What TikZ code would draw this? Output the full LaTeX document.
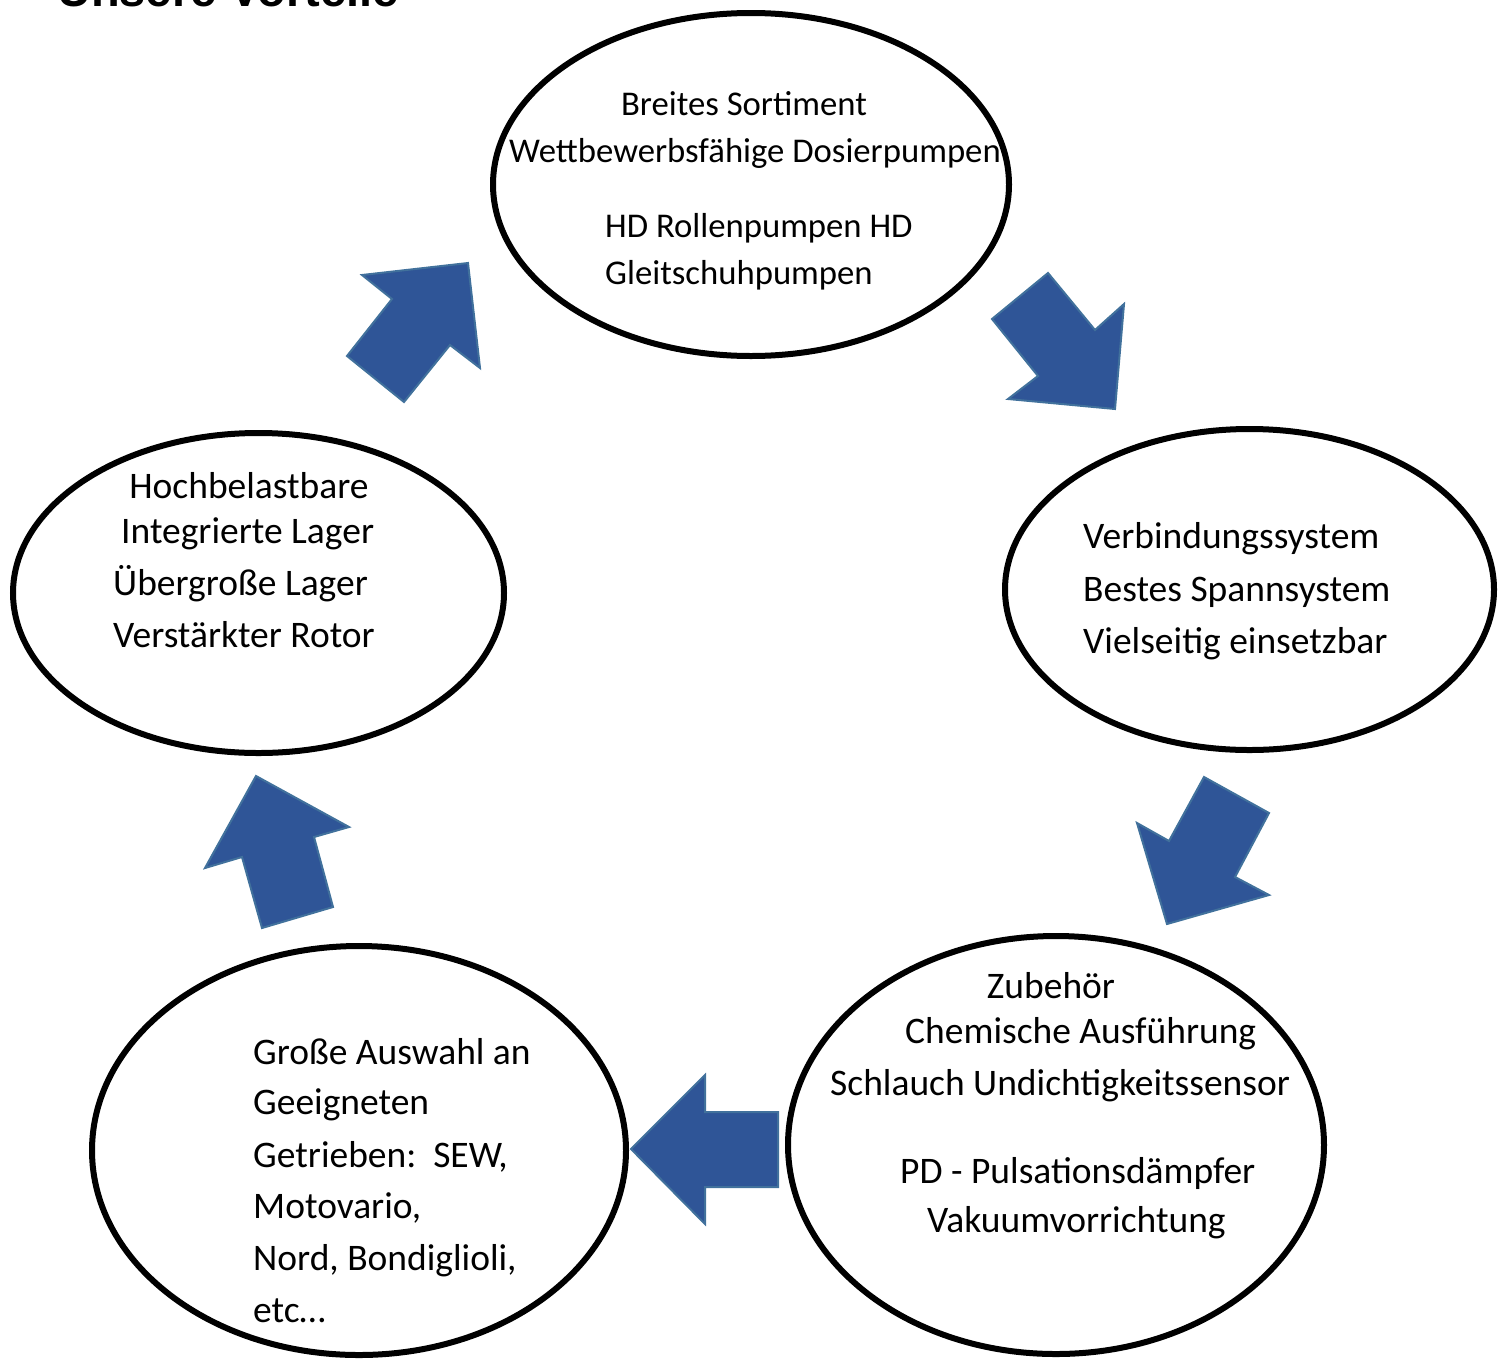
\documentclass[tikz,border=0pt]{standalone}
\usepackage{fontspec}
\setmainfont{Carlito}
\newfontfamily\titlefont{Liberation Sans}
\usetikzlibrary{shapes.geometric}
\definecolor{arrowfill}{RGB}{47,85,151}
\definecolor{arrowline}{RGB}{65,113,156}
\tikzset{
  bubble/.style={draw=black, line width=6pt, ellipse, inner sep=0pt},
  txt/.style={inner sep=0pt, font=\fontsize{37.5}{44}\selectfont},
  toptxt/.style={inner sep=0pt, font=\fontsize{34.7}{40}\selectfont},
  blockarrow/.style={fill=arrowfill, draw=arrowline, line width=2pt, line join=miter},
}
\begin{document}
\begin{tikzpicture}[x=1pt, y=-1pt]
\useasboundingbox (0,0) rectangle (1509,1360);
% title (cut off at top)
\node[inner sep=0pt, anchor=base west, font=\titlefont\bfseries\fontsize{47}{50}\selectfont] (title) at (57,6) {Unsere Vorteile};

% ellipses
\node[bubble, minimum width=516pt, minimum height=343pt] (top) at (751,184.5) {};
\node[bubble, minimum width=489pt, minimum height=321pt] (right) at (1249.5,589.5) {};
\node[bubble, minimum width=491pt, minimum height=320pt] (left) at (258.5,593) {};
\node[bubble, minimum width=534pt, minimum height=409pt] (botleft) at (359,1150.5) {};
\node[bubble, minimum width=536pt, minimum height=418pt] (botright) at (1056,1145) {};

% arrows
\draw[blockarrow] (362,275) -- (468,263) -- (480,368) -- (450,345) -- (404,402) -- (347,356) -- (392,299) -- cycle;
\draw[blockarrow] (1048,273) -- (1095,330) -- (1124,304) -- (1115,409) -- (1008,399) -- (1038,376) -- (992,319) -- cycle;
\draw[blockarrow] (1204,777) -- (1269,813) -- (1235,877) -- (1269,895) -- (1167,924) -- (1137,823) -- (1169,841) -- cycle;
\draw[blockarrow] (631,1149) -- (705,1075) -- (705,1112) -- (778,1112) -- (778,1187) -- (705,1187) -- (705,1224) -- cycle;
\draw[blockarrow] (256,776) -- (349,827) -- (314,837) -- (333,907) -- (262,928) -- (242,857) -- (205,868) -- cycle;

% top texts
\node[toptxt, anchor=base] (t1) at (744,115) {Breites Sortiment};
\node[toptxt, anchor=base] (t2) at (755,162) {Wettbewerbsfähige Dosierpumpen};
\node[toptxt, anchor=base west] (t3) at (605,237) {HD Rollenpumpen HD};
\node[toptxt, anchor=base west] (t4) at (605,284) {Gleitschuhpumpen};

% right texts
\node[txt, anchor=base west] (r1) at (1083,548) {Verbindungssystem};
\node[txt, anchor=base west] (r2) at (1083,601) {Bestes Spannsystem};
\node[txt, anchor=base west] (r3) at (1083,653) {Vielseitig einsetzbar};

% left texts
\node[txt, anchor=base] (l1) at (249,498) {Hochbelastbare};
\node[txt, anchor=base west] (l2) at (121,543) {Integrierte Lager};
\node[txt, anchor=base west] (l3) at (113,595) {Übergroße Lager};
\node[txt, anchor=base west] (l4) at (113,647) {Verstärkter Rotor};

% bottom-left texts
\node[txt, anchor=base west] (b1) at (253,1064) {Große Auswahl an};
\node[txt, anchor=base west] (b2) at (253,1114) {Geeigneten};
\node[txt, anchor=base west] (b3) at (253,1167) {Getrieben:\ \ SEW,};
\node[txt, anchor=base west] (b4) at (253,1218) {Motovario,};
\node[txt, anchor=base west] (b5) at (253,1270) {Nord, Bondiglioli,};
\node[txt, anchor=base west] (b6) at (253,1322) {etc…};

% bottom-right texts
\node[txt, anchor=base] (z1) at (1051,998) {Zubehör};
\node[txt, anchor=base west] (z2) at (905,1043) {Chemische Ausführung};
\node[txt, anchor=base west] (z3) at (830,1095) {Schlauch Undichtigkeitssensor};
\node[txt, anchor=base west] (z4) at (900,1183) {PD - Pulsationsdämpfer};
\node[txt, anchor=base west] (z5) at (927,1232) {Vakuumvorrichtung};
\end{tikzpicture}
\end{document}
